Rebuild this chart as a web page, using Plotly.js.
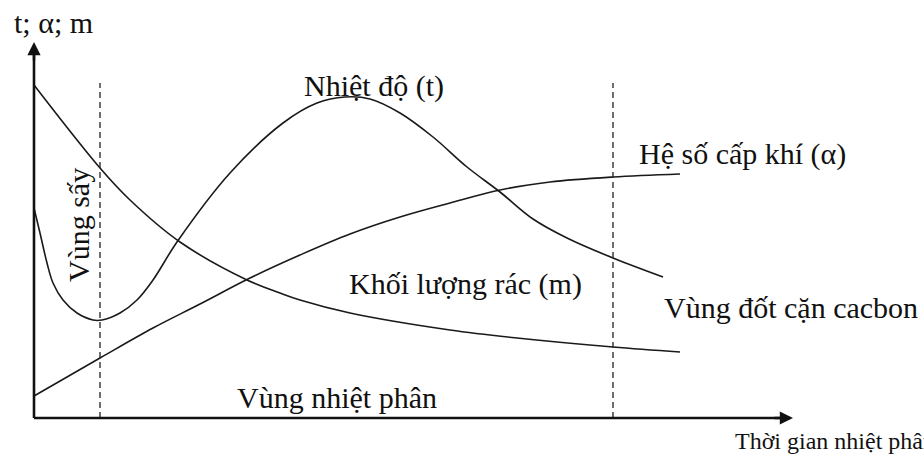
<!DOCTYPE html>
<html>
<head>
<meta charset="utf-8">
<script src="https://cdn.plot.ly/plotly-3.0.1.min.js"></script>
<style>html,body{margin:0;padding:0;background:#fff;}#chart{width:924px;height:455px;}</style>
</head>
<body>
<div id="chart"></div>
<script>
// Values (time units along x, arbitrary magnitude along y)
var tempTime   = [0, 0.6, 1.3, 1.9, 2.9, 4.3, 5.9, 6.8, 8.6, 10.3, 11.9, 14.3, 19.6, 24.9, 28.3, 31.1, 33.6, 36.6, 39.9, 43.3, 46.6, 49.9, 53.3, 57.9, 62.9];
var tempValue  = [21.0, 18.5, 15.5, 13.5, 11.8, 10.5, 9.8, 9.8, 10.5, 11.8, 13.8, 17.6, 24.5, 29.5, 31.5, 32.1, 31.9, 30.5, 28.1, 25.1, 22.6, 19.9, 18.0, 16.0, 14.1];

var alphaTime  = [0, 6.6, 11.9, 16.6, 21.6, 26.6, 31.6, 36.6, 41.6, 46.6, 51.6, 57.9, 64.6];
var alphaValue = [2.2, 6.0, 9.0, 11.4, 14.0, 16.3, 18.4, 20.1, 21.5, 22.8, 23.6, 24.1, 24.4];

var massTime   = [0, 6.6, 9.6, 14.6, 21.3, 24.6, 26.6, 31.6, 41.6, 48.3, 57.9, 64.6];
var massValue  = [33.3, 25.0, 21.8, 17.6, 13.8, 12.5, 11.8, 10.5, 8.8, 8.0, 7.1, 6.6];

var zoneBounds = [6.6, 57.9];   // dashed zone boundaries on the time axis
var zoneTop    = 33.5;
var axisXEnd   = 75.9;
var axisYEnd   = 37.6;

var seriesLabels = ["Nhiệt độ (t)", "Hệ số cấp khí (α)", "Khối lượng rác (m)"];
var zoneLabels   = ["Vùng sấy", "Vùng nhiệt phân", "Vùng đốt cặn cacbon"];
var yAxisLabel   = "t; α; m";
var xAxisLabel   = "Thời gian nhiệt phân";

var lineStyle = {color: '#1a1a1a', width: 1.6, shape: 'spline', smoothing: 1};
var font = {family: '"Liberation Serif", "Times New Roman", serif', size: 30, color: '#111'};

var traces = [
  {x: tempTime, y: tempValue, mode: 'lines', line: lineStyle, name: seriesLabels[0], hoverinfo: 'skip'},
  {x: alphaTime, y: alphaValue, mode: 'lines', line: lineStyle, name: seriesLabels[1], hoverinfo: 'skip'},
  {x: massTime, y: massValue, mode: 'lines', line: lineStyle, name: seriesLabels[2], hoverinfo: 'skip'}
];

var shapes = zoneBounds.map(function (xb) {
  return {type: 'line', xref: 'x', yref: 'y', x0: xb, x1: xb, y0: 0, y1: zoneTop,
          line: {color: '#222', width: 1.3, dash: '6px,4px'}};
});
shapes.push({type: 'line', xref: 'x', yref: 'y', x0: 0, x1: 0, y0: 0, y1: axisYEnd - 0.8, line: {color: '#111', width: 2.6}});
shapes.push({type: 'line', xref: 'x', yref: 'y', x0: 0, x1: axisXEnd - 0.8, y0: 0, y1: 0, line: {color: '#111', width: 2.6}});

function txt(s, x, y, opts) {
  var a = {text: s, x: x, y: y, xref: 'x', yref: 'y', showarrow: false, xanchor: 'left', yanchor: 'middle', font: font};
  for (var k in opts) a[k] = opts[k];
  return a;
}

var annotations = [
  // axis arrowheads
  {x: 0, y: axisYEnd, ax: 0, ay: axisYEnd - 2, axref: 'x', ayref: 'y', xref: 'x', yref: 'y', text: '', showarrow: true, arrowhead: 2, arrowsize: 1.1, arrowwidth: 2.4, arrowcolor: '#111'},
  {x: axisXEnd, y: 0, ax: axisXEnd - 2, ay: 0, axref: 'x', ayref: 'y', xref: 'x', yref: 'y', text: '', showarrow: true, arrowhead: 2, arrowsize: 1.1, arrowwidth: 2.4, arrowcolor: '#111'},
  txt(yAxisLabel, -2.2, 39.6, {}),
  txt(seriesLabels[0], 26.8, 33.2, {}),
  txt(seriesLabels[1], 60.3, 26.4, {}),
  txt(seriesLabels[2], 31.3, 13.4, {}),
  txt(zoneLabels[2], 62.8, 11.1, {}),
  txt(zoneLabels[1], 20.1, 2.1, {}),
  txt(zoneLabels[0], 4.4, 19.3, {xanchor: 'center', textangle: -90}),
  txt(xAxisLabel, 69.9, -2.3, {font: {family: font.family, size: 24, color: '#111'}})
];

var layout = {
  width: 924, height: 455,
  margin: {l: 0, r: 0, t: 0, b: 0},
  paper_bgcolor: '#fff', plot_bgcolor: '#fff',
  showlegend: false,
  xaxis: {range: [-3.4, 89], visible: false, fixedrange: true},
  yaxis: {range: [-3.7, 41.8], visible: false, fixedrange: true},
  shapes: shapes,
  annotations: annotations
};

Plotly.newPlot('chart', traces, layout, {staticPlot: true, displayModeBar: false});
</script>
</body>
</html>
